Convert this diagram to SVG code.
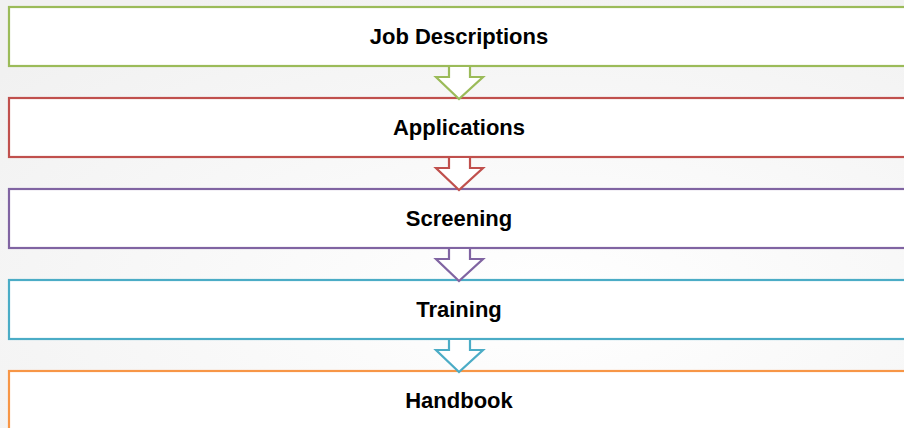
<svg xmlns="http://www.w3.org/2000/svg" width="904" height="428" viewBox="0 0 904 428">
<defs>
<radialGradient id="bg" cx="0.6" cy="0.7" r="0.8">
<stop offset="0" stop-color="#ffffff"/>
<stop offset="1" stop-color="#f1f1f1"/>
</radialGradient>
<style>
.box{fill:#ffffff;stroke-width:2.2}
.arr{fill:#ffffff;stroke-width:2.2;stroke-linejoin:miter}
.lbl{font-family:"Liberation Sans",Arial,sans-serif;font-weight:bold;font-size:22px;fill:#000000;text-anchor:middle}
</style>
</defs>
<rect width="904" height="428" fill="url(#bg)"/>
<g id="node-job">
<rect class="box" x="9" y="7" width="910" height="59" stroke="#9BBB59"/>
<text class="lbl" x="459" y="44">Job Descriptions</text>
</g>
<g id="node-applications">
<rect class="box" x="9" y="98" width="910" height="59" stroke="#C0504D"/>
<text class="lbl" x="459" y="135">Applications</text>
</g>
<g id="node-screening">
<rect class="box" x="9" y="189" width="910" height="59" stroke="#8064A2"/>
<text class="lbl" x="459" y="226">Screening</text>
</g>
<g id="node-training">
<rect class="box" x="9" y="280" width="910" height="59" stroke="#4BACC6"/>
<text class="lbl" x="459" y="317">Training</text>
</g>
<g id="node-handbook">
<rect class="box" x="9" y="371" width="910" height="70" stroke="#F79646"/>
<text class="lbl" x="459" y="408">Handbook</text>
</g>
<g id="connectors">
<path class="arr" stroke="#9BBB59" d="M449,67 V77 H436 L459,99 L483,77 H470 V67"/>
<path class="arr" stroke="#C0504D" d="M449,158 V168 H436 L459,190 L483,168 H470 V158"/>
<path class="arr" stroke="#8064A2" d="M449,249 V259 H436 L459,281 L483,259 H470 V249"/>
<path class="arr" stroke="#4BACC6" d="M449,340 V350 H436 L459,372 L483,350 H470 V340"/>
</g>
</svg>
